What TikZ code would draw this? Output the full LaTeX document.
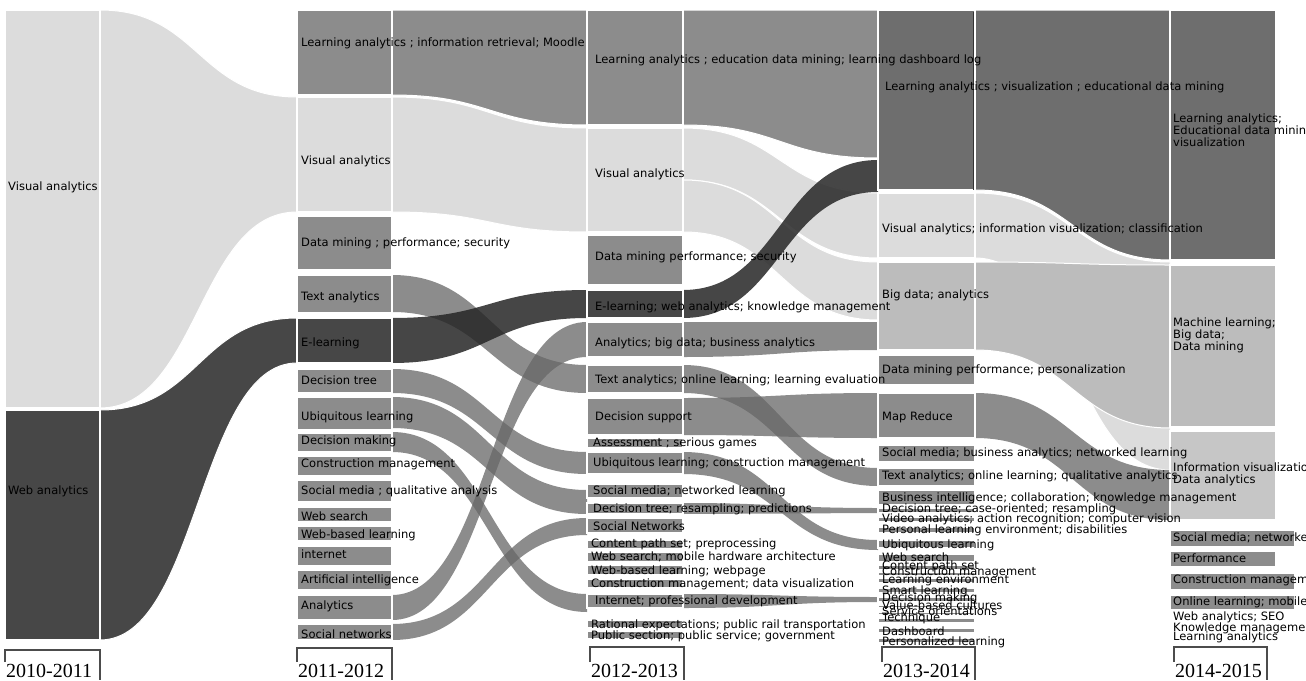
\documentclass[tikz,border=0pt]{standalone}
\usepackage{fontspec}
\setmainfont{DejaVu Sans}
\newfontfamily\yearfont{Liberation Serif}
\usepackage{xcolor}
\usepackage{tikz}

\definecolor{vislight}{HTML}{DCDCDC}
\definecolor{webdark}{HTML}{474747}
\definecolor{topicmid}{HTML}{8C8C8C}
\definecolor{ladark}{HTML}{6E6E6E}
\definecolor{bigmid}{HTML}{BCBCBC}
\definecolor{infomid}{HTML}{C6C6C6}

\tikzset{
  catbox/.style={fill=#1, draw=white, line width=1.2pt},
  solidband/.style={fill=#1, draw=white, line width=1pt},
  midband/.style={fill=black!60, fill opacity=0.75, draw=none},
  darkband/.style={fill=black!85, fill opacity=0.85, draw=none},
  catlabel/.style={anchor=west, inner sep=0pt, font=\fontsize{11.5}{12}\selectfont},
  yearframe/.style={draw=black!70, line width=1.2pt},
  yearlabel/.style={anchor=base west, inner sep=0pt, font=\yearfont\fontsize{20}{20}\selectfont}
}

\newcommand\ribbon[7][]{%
  \pgfmathsetmacro\ribmid{(#2+#5)/2}%
  \path[#1] (#2,#3) .. controls (\ribmid,#3) and (\ribmid,#6) .. (#5,#6)
    -- (#5,#7) .. controls (\ribmid,#7) and (\ribmid,#4) .. (#2,#4) -- cycle;}

\begin{document}
\begin{tikzpicture}[x=1pt,y=-1pt]
\useasboundingbox (0,0) rectangle (1306,680);
\clip (0,0) rectangle (1306,680);

\ribbon[solidband=vislight]{100}{10}{408}{297}{97}{212}
\ribbon[solidband=webdark]{100}{410}{640}{297}{318}{363}

\ribbon[solidband=topicmid]{392}{10}{95}{587}{10}{125}
\ribbon[solidband=vislight]{392}{97}{212}{587}{128}{232}
\ribbon[midband]{392}{275}{312}{587}{365}{393}
\ribbon[midband]{392}{369}{393}{587}{452}{474}
\ribbon[midband]{392}{397}{428}{587}{490}{514}
\ribbon[midband]{392}{432}{452}{587}{594}{612}
\ribbon[midband]{392}{595}{620}{587}{322}{357}
\ribbon[midband]{392}{624}{640}{587}{518}{535}
\ribbon[darkband]{392}{318}{363}{587}{290}{318}

\ribbon[solidband=topicmid]{683}{10}{125}{878}{10}{158}
\ribbon[solidband=vislight]{683}{128}{180}{878}{193}{258}
\ribbon[solidband=vislight]{683}{180}{232}{878}{262}{320}
\ribbon[midband]{683}{322}{357}{878}{322}{350}
\ribbon[midband]{683}{365}{393}{878}{468}{486}
\ribbon[midband]{683}{398}{435}{878}{393}{438}
\ribbon[midband]{683}{452}{474}{878}{540}{550}
\ribbon[midband]{683}{503}{514}{878}{508}{513}
\ribbon[midband]{683}{594}{608}{878}{597}{602}
\ribbon[darkband]{683}{290}{318}{878}{160}{192}

\ribbon[solidband=vislight]{975}{193}{258}{1170}{262}{470}
\ribbon[solidband=bigmid]{975}{262}{350}{1170}{265}{428}
\ribbon[solidband=ladark]{975}{10}{190}{1170}{10}{260}
\ribbon[midband]{975}{393}{438}{1170}{470}{520}

\draw[catbox=vislight] (5,10) rectangle (100,408);
\draw[catbox=webdark] (5,410) rectangle (100,640);

\draw[catbox=topicmid] (297,10) rectangle (392,95);
\draw[catbox=vislight] (297,97) rectangle (392,212);
\draw[catbox=topicmid] (297,216) rectangle (392,270);
\draw[catbox=topicmid] (297,275) rectangle (392,313);
\draw[catbox=webdark] (297,318) rectangle (392,363);
\draw[catbox=topicmid] (297,369) rectangle (392,393);
\draw[catbox=topicmid] (297,397) rectangle (392,430);
\draw[catbox=topicmid] (297,433) rectangle (392,452);
\draw[catbox=topicmid] (297,456) rectangle (392,476);
\draw[catbox=topicmid] (297,480) rectangle (392,502);
\draw[catbox=topicmid] (297,507) rectangle (392,522);
\draw[catbox=topicmid] (297,526) rectangle (392,541);
\draw[catbox=topicmid] (297,546) rectangle (392,566);
\draw[catbox=topicmid] (297,570) rectangle (392,590);
\draw[catbox=topicmid] (297,595) rectangle (392,620);
\draw[catbox=topicmid] (297,624) rectangle (392,640);

\draw[catbox=topicmid] (587,10) rectangle (683,125);
\draw[catbox=vislight] (587,128) rectangle (683,232);
\draw[catbox=topicmid] (587,235) rectangle (683,285);
\draw[catbox=webdark] (587,290) rectangle (683,318);
\draw[catbox=topicmid] (587,322) rectangle (683,357);
\draw[catbox=topicmid] (587,365) rectangle (683,393);
\draw[catbox=topicmid] (587,398) rectangle (683,435);
\draw[catbox=topicmid] (587,438) rectangle (683,448);
\draw[catbox=topicmid] (587,452) rectangle (683,474);
\draw[catbox=topicmid] (587,484) rectangle (683,498);
\draw[catbox=topicmid] (587,503) rectangle (683,514);
\draw[catbox=topicmid] (587,518) rectangle (683,533);
\draw[catbox=topicmid] (587,540) rectangle (683,549);
\draw[catbox=topicmid] (587,552) rectangle (683,562);
\draw[catbox=topicmid] (587,565) rectangle (683,575);
\draw[catbox=topicmid] (587,579) rectangle (683,588);
\draw[catbox=topicmid] (587,594) rectangle (683,608);
\draw[catbox=topicmid] (587,620) rectangle (683,628);
\draw[catbox=topicmid] (587,631) rectangle (683,639);

\draw[catbox=ladark] (878,10) rectangle (975,190);
\draw[catbox=vislight] (878,193) rectangle (975,258);
\draw[catbox=bigmid] (878,262) rectangle (975,350);
\draw[catbox=topicmid] (878,355) rectangle (975,385);
\draw[catbox=topicmid] (878,393) rectangle (975,438);
\draw[catbox=topicmid] (878,445) rectangle (975,462);
\draw[catbox=topicmid] (878,468) rectangle (975,486);
\draw[catbox=topicmid] (878,490) rectangle (975,505);
\draw[catbox=topicmid] (878,508) rectangle (975,513);
\draw[catbox=topicmid] (878,517) rectangle (975,522);
\draw[catbox=topicmid] (878,527) rectangle (975,533);
\draw[catbox=topicmid] (878,540) rectangle (975,548);
\draw[catbox=topicmid] (878,554) rectangle (975,562);
\draw[catbox=topicmid] (878,565) rectangle (975,570);
\draw[catbox=topicmid] (878,572) rectangle (975,576);
\draw[catbox=topicmid] (878,578) rectangle (975,583);
\draw[catbox=topicmid] (878,588) rectangle (975,593);
\draw[catbox=topicmid] (878,597) rectangle (975,602);
\draw[catbox=topicmid] (878,605) rectangle (975,608);
\draw[catbox=topicmid] (878,612) rectangle (975,615);
\draw[catbox=topicmid] (878,618) rectangle (975,623);
\draw[catbox=topicmid] (878,628) rectangle (975,633);
\draw[catbox=topicmid] (878,638) rectangle (975,643);
\draw[black!80, line width=1pt] (973,12) -- (973,190);

\draw[catbox=ladark] (1170,10) rectangle (1276,260);
\draw[catbox=bigmid] (1170,265) rectangle (1276,427);
\draw[catbox=infomid] (1170,431) rectangle (1276,520);
\draw[catbox=topicmid] (1170,530) rectangle (1295,547);
\draw[catbox=topicmid] (1170,551) rectangle (1276,567);
\draw[catbox=topicmid] (1170,573) rectangle (1295,590);
\draw[catbox=topicmid] (1170,595) rectangle (1295,610);

\node[catlabel] (aVis) at (8,187) {Visual analytics};
\node[catlabel] (aWeb) at (8,491) {Web analytics};

\node[catlabel] (bLearn) at (301,43) {Learning analytics ; information retrieval; Moodle};
\node[catlabel] (bVis) at (301,161) {Visual analytics};
\node[catlabel] (bMining) at (301,243) {Data mining ; performance; security};
\node[catlabel] (bText) at (301,297) {Text analytics};
\node[catlabel] (bElearn) at (301,343) {E-learning};
\node[catlabel] (bTree) at (301,380) {Decision tree};
\node[catlabel] (bUbiq) at (301,417) {Ubiquitous learning};
\node[catlabel] (bMaking) at (301,441) {Decision making};
\node[catlabel] (bConstr) at (301,464) {Construction management};
\node[catlabel] (bSocial) at (301,491) {Social media ; qualitative analysis};
\node[catlabel] (bSearch) at (301,516) {Web search};
\node[catlabel] (bWebLearn) at (301,535) {Web-based learning};
\node[catlabel] (bNet) at (301,554) {internet};
\node[catlabel] (bAI) at (301,580) {Artificial intelligence};
\node[catlabel] (bAnalytics) at (301,606) {Analytics};
\node[catlabel] (bNetworks) at (301,634) {Social networks};

\node[catlabel] (cLearn) at (595,60) {Learning analytics ; education data mining; learning dashboard log};
\node[catlabel] (cVis) at (595,174) {Visual analytics};
\node[catlabel] (cMining) at (595,257) {Data mining performance; security};
\node[catlabel] (cElearn) at (595,307) {E-learning; web analytics; knowledge management};
\node[catlabel] (cAnalytics) at (595,343) {Analytics; big data; business analytics};
\node[catlabel] (cText) at (595,380) {Text analytics; online learning; learning evaluation};
\node[catlabel] (cSupport) at (595,417) {Decision support};
\node[catlabel] (cAssess) at (593,443) {Assessment ; serious games};
\node[catlabel] (cUbiq) at (593,463) {Ubiquitous learning; construction management};
\node[catlabel] (cSocial) at (593,491) {Social media; networked learning};
\node[catlabel] (cTree) at (593,509) {Decision tree; resampling; predictions};
\node[catlabel] (cNetworks) at (593,526) {Social Networks};
\node[catlabel] (cContent) at (591,544) {Content path set; preprocessing};
\node[catlabel] (cSearch) at (591,557) {Web search; mobile hardware architecture};
\node[catlabel] (cWebLearn) at (591,571) {Web-based learning; webpage};
\node[catlabel] (cConstr) at (591,584) {Construction management; data visualization};
\node[catlabel] (cNet) at (595,601) {Internet; professional development};
\node[catlabel] (cRail) at (591,625) {Rational expectations; public rail transportation};
\node[catlabel] (cPublic) at (591,636) {Public section; public service; government};

\node[catlabel] (dLearn) at (885,87) {Learning analytics ; visualization ; educational data mining};
\node[catlabel] (dVis) at (882,229) {Visual analytics; information visualization; classification};
\node[catlabel] (dBig) at (882,295) {Big data; analytics};
\node[catlabel] (dMining) at (882,370) {Data mining performance; personalization};
\node[catlabel] (dMap) at (882,417) {Map Reduce};
\node[catlabel] (dSocial) at (882,453) {Social media; business analytics; networked learning};
\node[catlabel] (dText) at (882,476) {Text analytics; online learning; qualitative analytics};
\node[catlabel] (dBusiness) at (882,498) {Business intelligence; collaboration; knowledge management};
\node[catlabel] (dTree) at (882,509) {Decision tree; case-oriented; resampling};
\node[catlabel] (dVideo) at (882,519) {Video analytics; action recognition; computer vision};
\node[catlabel] (dPersonal) at (882,530) {Personal learning environment; disabilities};
\node[catlabel] (dUbiq) at (882,545) {Ubiquitous learning};
\node[catlabel] (dSearch) at (882,557) {Web search};
\node[catlabel] (dContent) at (882,566) {Content path set};
\node[catlabel] (dConstr) at (882,572) {Construction management};
\node[catlabel] (dEnv) at (882,580) {Learning environment};
\node[catlabel] (dSmart) at (882,591) {Smart learning};
\node[catlabel] (dMaking) at (882,598) {Decision making};
\node[catlabel] (dValue) at (882,605) {Value-based cultures};
\node[catlabel] (dService) at (882,611) {Service orientations};
\node[catlabel] (dTech) at (882,618) {Technique};
\node[catlabel] (dDash) at (882,631) {Dashboard};
\node[catlabel] (dPerso) at (882,642) {Personalized learning};

\node[catlabel, align=left] (eLearn) at (1173,130) {Learning analytics;\\Educational data mining;\\visualization};
\node[catlabel, align=left] (eMachine) at (1173,335) {Machine learning;\\Big data;\\Data mining};
\node[catlabel, align=left] (eInfo) at (1173,474) {Information visualization;\\Data analytics};
\node[catlabel] (eSocial) at (1173,538) {Social media; networked learning};
\node[catlabel] (ePerf) at (1173,558) {Performance};
\node[catlabel] (eConstr) at (1173,580) {Construction management};
\node[catlabel] (eOnline) at (1173,602) {Online learning; mobile learning};
\node[catlabel] (eWeb) at (1173,617) {Web analytics; SEO};
\node[catlabel] (eKnow) at (1173,628) {Knowledge management};
\node[catlabel] (eLA) at (1173,637) {Learning analytics};

\draw[yearframe] (5,662) -- (5,650) -- (100,650) -- (100,680);
\draw[yearframe] (297,662) -- (297,648) -- (392,648) -- (392,680);
\draw[yearframe] (590,662) -- (590,647) -- (684,647) -- (684,680);
\draw[yearframe] (882,662) -- (882,647) -- (975,647) -- (975,680);
\draw[yearframe] (1174,662) -- (1174,647) -- (1267,647) -- (1267,680);
\node[yearlabel] (yA) at (6,677) {2010-2011};
\node[yearlabel] (yB) at (298,677) {2011-2012};
\node[yearlabel] (yC) at (591,677) {2012-2013};
\node[yearlabel] (yD) at (883,677) {2013-2014};
\node[yearlabel] (yE) at (1175,677) {2014-2015};
\end{tikzpicture}
\end{document}
